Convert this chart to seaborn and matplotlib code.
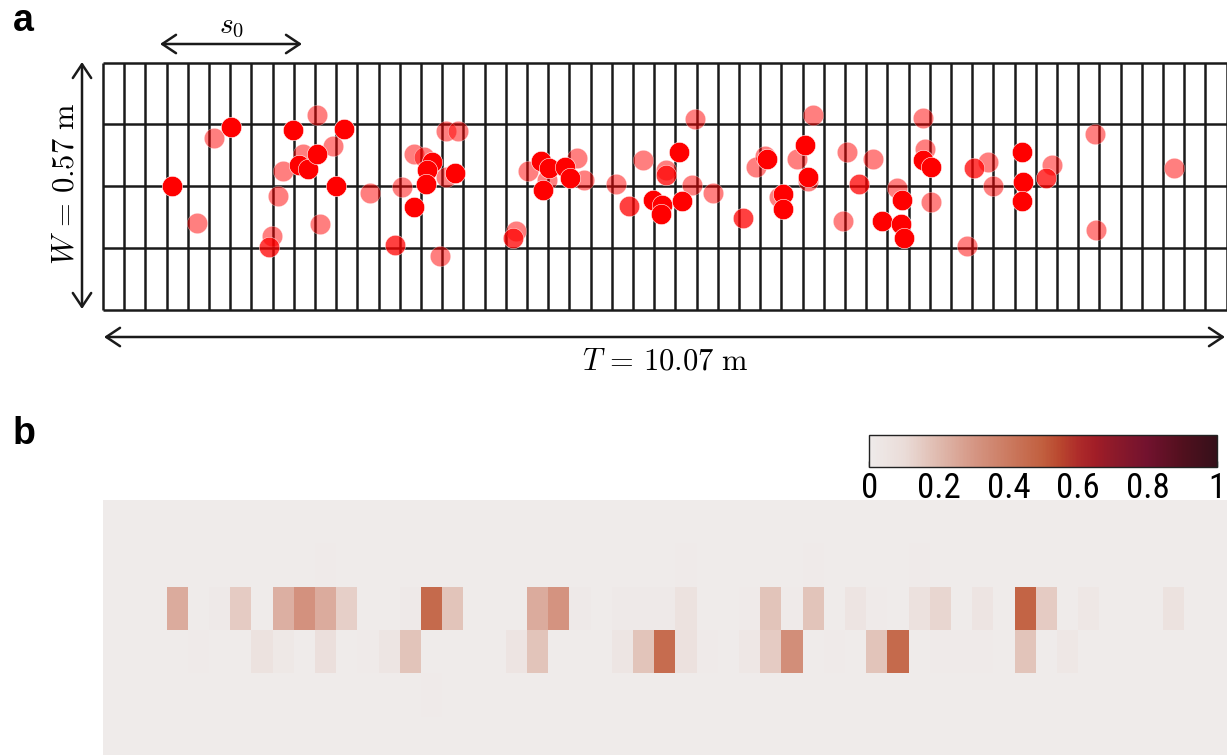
import numpy as np
import pandas as pd
import matplotlib
matplotlib.use("Agg")
import matplotlib.pyplot as plt
from matplotlib.colors import LinearSegmentedColormap
import seaborn as sns

# panel a: tank and sampling grid
tank_len = 10.07   # T in m
tank_wid = 0.57    # W in m
n_cols = 53
n_rows = 4

# fish positions (m) and their opacity in the snapshot
fish_x = [0.616, 0.840, 0.997, 1.147, 1.610, 1.571, 1.513, 1.490, 1.707, 1.921,
          1.790, 1.759, 1.840, 1.922, 2.059, 2.160, 2.090, 1.947, 2.397, 2.684,
          2.787, 2.617, 3.020, 2.783, 2.881, 2.949, 2.901, 2.897, 3.077, 3.157,
          3.077, 3.182, 3.697, 3.672, 3.809, 3.924, 3.997, 4.141, 4.185, 3.946,
          3.977, 4.245, 4.308, 4.598, 4.714, 4.842, 4.932, 5.014, 5.001, 5.046,
          5.050, 5.160, 5.189, 5.281, 5.307, 5.470, 5.739, 5.848, 5.929, 5.948,
          6.090, 6.058, 6.091, 6.222, 6.291, 6.321, 6.321, 6.363, 6.665, 6.771,
          6.635, 6.903, 6.979, 7.119, 7.158, 7.152, 7.181, 7.352, 7.370, 7.352,
          7.421, 7.421, 7.741, 7.806, 7.929, 7.976, 8.239, 8.248, 8.236, 8.449,
          8.502, 8.890, 8.897, 9.599]
fish_y = [0.286, 0.200, 0.397, 0.421, 0.319, 0.261, 0.169, 0.144, 0.415, 0.449,
          0.360, 0.334, 0.324, 0.359, 0.378, 0.416, 0.286, 0.197, 0.270, 0.284,
          0.237, 0.149, 0.124, 0.360, 0.352, 0.341, 0.322, 0.289, 0.307, 0.315,
          0.413, 0.413, 0.182, 0.165, 0.321, 0.343, 0.326, 0.330, 0.304, 0.276,
          0.299, 0.350, 0.299, 0.289, 0.239, 0.345, 0.254, 0.241, 0.221, 0.323,
          0.311, 0.364, 0.250, 0.288, 0.440, 0.270, 0.211, 0.328, 0.355, 0.348,
          0.266, 0.260, 0.231, 0.348, 0.379, 0.307, 0.296, 0.449, 0.364, 0.291,
          0.204, 0.347, 0.204, 0.281, 0.252, 0.197, 0.166, 0.442, 0.371, 0.345,
          0.330, 0.248, 0.147, 0.326, 0.341, 0.285, 0.364, 0.294, 0.251, 0.304,
          0.334, 0.405, 0.184, 0.326]
fish_alpha = [1, .5, .5, 1, .5, .5, .5, .75, 1, .5,
              .5, 1, 1, 1, .5, 1, 1, .5, .5, .5,
              1, .75, .5, .5, .5, 1, 1, 1, .5, 1,
              .5, .5, .5, .75, .5, 1, 1, 1, 1, 1,
              .5, .5, .5, .5, .75, .5, 1, 1, 1, .5,
              .75, 1, 1, .5, .5, .5, .75, .5, .5, 1,
              1, .5, 1, .5, 1, 1, .5, .5, .5, .75,
              .5, .5, 1, .5, 1, 1, 1, .5, .5, 1,
              1, .5, .5, .75, .5, .5, 1, 1, 1, .75,
              .5, .5, .5, .5]

# panel b: occupancy map, only the non-zero cells
hm_rows = 6
hm_row = [1, 1, 1, 1, 4,
          2, 2, 2, 2, 2, 2, 2, 2, 2, 2, 2, 2, 2, 2, 2, 2, 2, 2, 2, 2,
          2, 2, 2, 2, 2, 2, 2, 2, 2, 2,
          3, 3, 3, 3, 3, 3, 3, 3, 3, 3, 3, 3, 3, 3, 3, 3, 3, 3, 3, 3,
          3, 3, 3, 3, 3]
hm_col = [10, 27, 33, 38, 15,
          3, 5, 6, 8, 9, 10, 11, 14, 15, 16, 20, 21, 22, 24, 25, 26, 27, 30, 31, 32,
          33, 35, 36, 38, 39, 41, 43, 44, 46, 50,
          4, 7, 8, 10, 12, 13, 14, 19, 20, 24, 25, 26, 27, 28, 30, 31, 32, 34, 36, 37,
          39, 40, 41, 43, 45]
hm_val = [0.01, 0.008, 0.008, 0.008, 0.01,
          0.24, 0.012, 0.15, 0.23, 0.32, 0.24, 0.14, 0.012, 0.46, 0.17, 0.24, 0.31, 0.015, 0.015, 0.015, 0.015, 0.06, 0.01, 0.17, 0.01,
          0.17, 0.05, 0.01, 0.07, 0.12, 0.05, 0.48, 0.15, 0.03, 0.06,
          0.01, 0.06, 0.02, 0.08, 0.01, 0.04, 0.17, 0.05, 0.17, 0.04, 0.17, 0.45, 0.07, 0.006, 0.03, 0.15, 0.33, 0.006, 0.17, 0.46,
          0.006, 0.006, 0.01, 0.17, 0.03]

cbar_ticks = [0, 0.2, 0.4, 0.6, 0.8, 1]
cbar_labels = ['0', '0.2', '0.4', '0.6', '0.8', '1']

cmap = LinearSegmentedColormap.from_list('amp_like', [
    (0.0, '#EFEBEA'), (0.1, '#EADCD8'), (0.2, '#DFB9AD'), (0.3, '#D59684'),
    (0.4, '#CB7A60'), (0.5, '#C15E3E'), (0.55, '#B9462E'), (0.6, '#AE2C2A'),
    (0.65, '#A11D27'), (0.7, '#8E1A2A'), (0.8, '#72122E'), (0.9, '#52101E'),
    (1.0, '#35101A')])

sns.set_theme(style="white")
plt.rcParams['font.family'] = ['Liberation Sans', 'DejaVu Sans']
plt.rcParams['mathtext.fontset'] = 'cm'
plt.rcParams['text.color'] = 'black'
plt.rcParams['xtick.color'] = 'black'
plt.rcParams['xtick.labelcolor'] = 'black'

W, H = 1227, 755
fig = plt.figure(figsize=(W / 100, H / 100), dpi=100)

def fbox(x0, y0, x1, y1):
    # pixel box (from top-left) -> figure fraction
    return [x0 / W, 1 - y1 / H, (x1 - x0) / W, (y1 - y0) / H]

# ---- panel a
ax = fig.add_axes(fbox(103, 62.7, 1226.6, 309.5))
ax.vlines(np.linspace(0, tank_len, n_cols + 1), 0, tank_wid, color='k', lw=1.8, clip_on=False)
ax.hlines(np.linspace(0, tank_wid, n_rows + 1), 0, tank_len, color='k', lw=1.8, clip_on=False)

fish = pd.DataFrame({'x': fish_x, 'y': fish_y, 'alpha': fish_alpha})
for a in sorted(fish['alpha'].unique()):
    sub = fish[fish['alpha'] == a]
    sns.scatterplot(data=sub, x='x', y='y', color='red', alpha=a, s=215,
                    linewidth=0.4, edgecolor=(1, 1, 1, 0.6), legend=False, ax=ax, zorder=3)
ax.set_xlim(0, tank_len)
ax.set_ylim(0, tank_wid)
ax.axis('off')

def arrow(x0, y0, x1, y1):
    ax.annotate('', xy=(x1, H - y1), xytext=(x0, H - y0), xycoords='figure pixels',
                textcoords='figure pixels', annotation_clip=False,
                arrowprops=dict(arrowstyle='<->,head_length=0.45,head_width=0.3',
                                lw=1.8, color='k', shrinkA=0, shrinkB=0, mutation_scale=22))

arrow(160, 44, 302, 44)
arrow(82, 62, 82, 309)
arrow(104, 337, 1225, 337)

fig.text(232 / W, 1 - 26 / H, r'$s_0$', fontsize=21, ha='center', va='center')
fig.text(665 / W, 1 - 362 / H, r'$T\,=\,10.07\ \mathrm{m}$', fontsize=22, ha='center', va='center')
fig.text(66 / W, 1 - 184 / H, r'$W\,=\,0.57\ \mathrm{m}$', fontsize=22, ha='center', va='center',
         rotation=90)
fig.text(13 / W, 1 - 31 / H, 'a', fontsize=27, fontweight='bold', ha='left', va='baseline')
fig.text(13 / W, 1 - 444 / H, 'b', fontsize=27, fontweight='bold', ha='left', va='baseline')

# ---- panel b
mat = np.zeros((hm_rows, n_cols))
mat[hm_row, hm_col] = hm_val

axb = fig.add_axes(fbox(103, 500, 1226.6, 760))
cax = fig.add_axes(fbox(869.3, 435, 1217.3, 466.7))
sns.heatmap(mat, ax=axb, cmap=cmap, vmin=0, vmax=1, cbar_ax=cax,
            cbar_kws={'orientation': 'horizontal', 'ticks': cbar_ticks},
            xticklabels=False, yticklabels=False, linewidths=0)
axb.tick_params(left=False, bottom=False)

cb = axb.collections[0].colorbar
cb.outline.set_linewidth(1.0)
cb.outline.set_edgecolor('#222222')
cax.set_xticks(cbar_ticks)
cax.set_xticklabels(cbar_labels,
                    family=['Liberation Sans Narrow', 'Roboto Condensed', 'Liberation Sans'])
cax.tick_params(axis='x', direction='in', length=4, width=1, color='#222222',
                bottom=True, labelsize=25, pad=4)

fig.savefig('out.png', dpi=100)
